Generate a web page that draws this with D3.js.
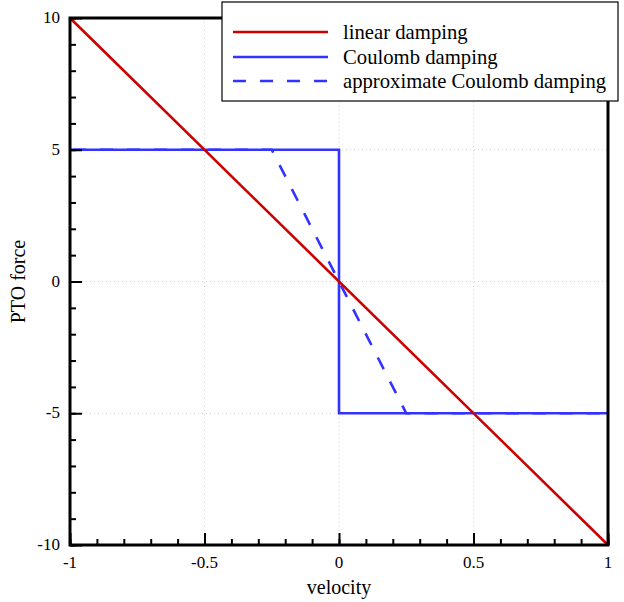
<!DOCTYPE html>
<html>
<head>
<meta charset="utf-8">
<script src="https://cdn.jsdelivr.net/npm/d3@7"></script>
<style>
  html, body { margin: 0; padding: 0; background: #fff; }
</style>
</head>
<body>
<svg id="chart" width="624" height="602" font-family="'Liberation Serif', 'DejaVu Serif', serif"></svg>
<script>
// ---- data ----
const linearX = [-1, 1];
const linearY = [10, -10];
const coulombX = [-1, 0, 0, 1];
const coulombY = [5, 5, -5, -5];
const approxX = [-1, -0.25, 0.25, 1];
const approxY = [5, 5, -5, -5];
const xTicks = [-1, -0.5, 0, 0.5, 1];
const xTickLabels = ["-1", "-0.5", "0", "0.5", "1"];
const yTicks = [-10, -5, 0, 5, 10];
const yTickLabels = ["-10", "-5", "0", "5", "10"];
const legendLabels = ["linear damping", "Coulomb damping", "approximate Coulomb damping"];

// ---- layout ----
const svg = d3.select("#chart");
const pL = 70, pR = 608, pT = 18, pB = 545;
const x = d3.scaleLinear().domain([-1, 1]).range([pL, pR]);
const y = d3.scaleLinear().domain([-10, 10]).range([pB, pT]);

// grid (dotted)
const grid = svg.append("g");
xTicks.slice(1, -1).forEach(v => {
  grid.append("line").attr("x1", x(v)).attr("x2", x(v)).attr("y1", pT).attr("y2", pB)
    .attr("stroke", "#d0d0d0").attr("stroke-width", 1).attr("stroke-dasharray", "1,3");
});
yTicks.slice(1, -1).forEach(v => {
  grid.append("line").attr("x1", pL).attr("x2", pR).attr("y1", y(v)).attr("y2", y(v))
    .attr("stroke", "#d0d0d0").attr("stroke-width", 1).attr("stroke-dasharray", "1,3");
});

// series
const line = d3.line().x(d => x(d[0])).y(d => y(d[1]));
const zip = (a, b) => a.map((v, i) => [v, b[i]]);
svg.append("path").attr("d", line(zip(coulombX, coulombY)))
  .attr("fill", "none").attr("stroke", "#3333ff").attr("stroke-width", 2.6);
svg.append("path").attr("d", line(zip(approxX, approxY)))
  .attr("fill", "none").attr("stroke", "#3333ff").attr("stroke-width", 2.6)
  .attr("stroke-dasharray", "13,14").attr("stroke-dashoffset", 24);
svg.append("path").attr("d", line(zip(linearX, linearY)))
  .attr("fill", "none").attr("stroke", "#cc0000").attr("stroke-width", 2.6);

// axes: ticks inward
const xAxisMinor = d3.axisTop(x).tickValues(d3.range(-10, 11).map(i => i / 10)).tickSize(6).tickFormat("");
const xAxisMajor = d3.axisTop(x).tickValues(xTicks).tickSize(12).tickFormat("");
const yAxisMinor = d3.axisRight(y).tickValues(d3.range(-10, 11)).tickSize(6).tickFormat("");
const yAxisMajor = d3.axisRight(y).tickValues(yTicks).tickSize(12).tickFormat("");
[xAxisMinor, xAxisMajor].forEach(a => {
  const g = svg.append("g").attr("transform", `translate(0,${pB})`).call(a);
  g.select(".domain").remove();
  g.selectAll("line").attr("stroke", "#000").attr("stroke-width", 2);
});
[yAxisMinor, yAxisMajor].forEach(a => {
  const g = svg.append("g").attr("transform", `translate(${pL},0)`).call(a);
  g.select(".domain").remove();
  g.selectAll("line").attr("stroke", "#000").attr("stroke-width", 2);
});

// frame
svg.append("rect").attr("x", pL).attr("y", pT).attr("width", pR - pL).attr("height", pB - pT)
  .attr("fill", "none").attr("stroke", "#000").attr("stroke-width", 3);

// tick labels
xTicks.forEach((v, i) => {
  svg.append("text").attr("x", x(v)).attr("y", pB + 23).attr("text-anchor", "middle")
    .attr("font-size", 17).attr("fill", "#000").text(xTickLabels[i]);
});
yTicks.forEach((v, i) => {
  svg.append("text").attr("x", pL - 10).attr("y", y(v) + 5).attr("text-anchor", "end")
    .attr("font-size", 17).attr("fill", "#000").text(yTickLabels[i]);
});

// axis titles
svg.append("text").attr("x", (pL + pR) / 2).attr("y", 594).attr("text-anchor", "middle")
  .attr("font-size", 20).attr("fill", "#000").text("velocity");
svg.append("text").attr("transform", `translate(25,${(pT + pB) / 2}) rotate(-90)`)
  .attr("text-anchor", "middle").attr("font-size", 20).attr("fill", "#000").text("PTO force");

// legend
const lg = svg.append("g");
lg.append("rect").attr("x", 222).attr("y", 2).attr("width", 396).attr("height", 99)
  .attr("fill", "#fff").attr("stroke", "#000").attr("stroke-width", 1.2);
const legColors = ["#cc0000", "#3333ff", "#3333ff"];
const legDash = [null, null, "13,14"];
const rowY = [32, 57, 81];
legendLabels.forEach((t, i) => {
  lg.append("line").attr("x1", 233).attr("x2", 328).attr("y1", rowY[i]).attr("y2", rowY[i])
    .attr("stroke", legColors[i]).attr("stroke-width", 2.6)
    .attr("stroke-dasharray", legDash[i]);
  lg.append("text").attr("x", 343).attr("y", rowY[i] + 7).attr("font-size", 20.7)
    .attr("fill", "#000").text(t);
});
</script>
</body>
</html>
